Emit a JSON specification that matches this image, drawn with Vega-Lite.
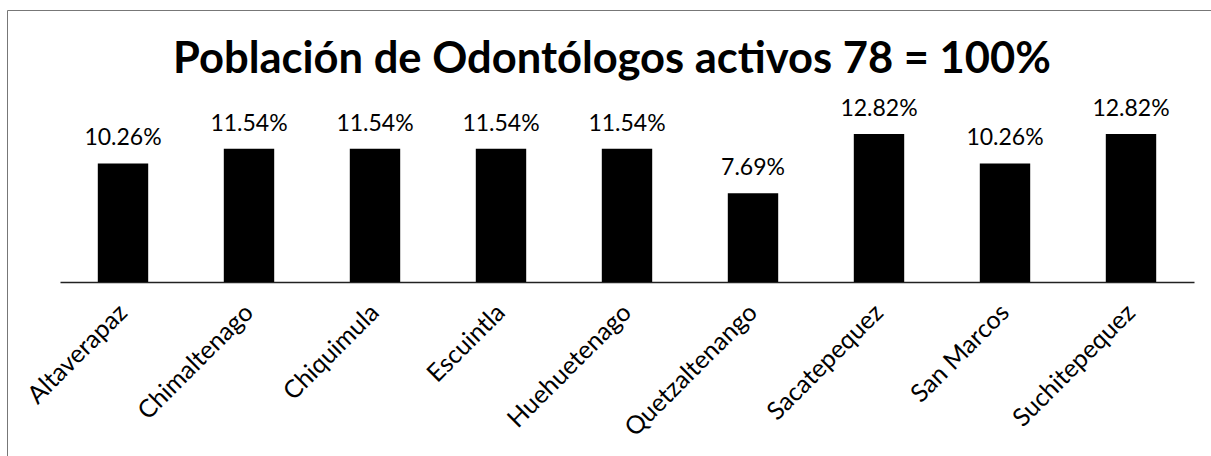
{
  "$schema": "https://vega.github.io/schema/vega-lite/v6.json",
  "width": 1204,
  "height": 446,
  "autosize": {"type": "none"},
  "padding": {"left": 7, "top": 10, "right": 0, "bottom": 0},
  "background": "white",
  "config": {
    "view": {"stroke": null},
    "font": "Lato",
    "title": {"font": "Lato", "fontSize": 43.5, "fontWeight": "bold", "color": "#000", "anchor": "middle", "frame": "group", "baseline": "alphabetic", "offset": -72, "dx": 3}
  },
  "title": {"text": "Población de Odontólogos activos 78 = 100%"},
  "data": {
    "values": [
      {"region": "Altaverapaz", "pct": 0.1026},
      {"region": "Chimaltenago", "pct": 0.1154},
      {"region": "Chiquimula", "pct": 0.1154},
      {"region": "Escuintla", "pct": 0.1154},
      {"region": "Huehuetenago", "pct": 0.1154},
      {"region": "Quetzaltenango", "pct": 0.0769},
      {"region": "Sacatepequez", "pct": 0.1282},
      {"region": "San Marcos", "pct": 0.1026},
      {"region": "Suchitepequez", "pct": 0.1282}
    ]
  },
  "layer": [
    {
      "encoding": {
        "x": {
          "field": "region", "type": "nominal", "sort": null,
          "scale": {"range": [53, 1187], "paddingInner": 0.6, "paddingOuter": 0.3},
          "axis": {"orient": "bottom", "offset": -174, "title": null, "ticks": false, "domainColor": "#222", "domainWidth": 1.5, "labelAngle": -45, "labelAlign": "right", "labelBaseline": "middle", "labelPadding": 26, "labelFont": "Lato", "labelFontSize": 25, "labelColor": "#000", "grid": false, "labelOverlap": false}
        },
        "y": {
          "field": "pct", "type": "quantitative",
          "scale": {"domain": [0, 0.16], "range": [272, 87.2], "zero": true, "nice": false},
          "axis": null
        }
      },
      "layer": [
        {"mark": {"type": "bar", "color": "#000"}},
        {"mark": {"type": "text", "baseline": "alphabetic", "dy": -18, "fontSize": 23, "font": "Lato", "color": "#000"},
         "encoding": {"text": {"field": "pct", "type": "quantitative", "format": ".2%"}}}
      ]
    },
    {
      "mark": {"type": "point", "opacity": 0},
      "encoding": {
        "x": {"field": "pct", "type": "quantitative", "scale": {"domain": [0, 1], "nice": false, "zero": false},
              "axis": {"orient": "top", "title": null, "labels": false, "ticks": false, "grid": false, "domainColor": "#777", "domainWidth": 1}},
        "y": {"field": "pct", "type": "quantitative", "scale": {"domain": [0, 1], "nice": false, "zero": false},
              "axis": {"orient": "left", "title": null, "labels": false, "ticks": false, "grid": false, "domainColor": "#777", "domainWidth": 1}}
      }
    }
  ],
  "resolve": {"scale": {"x": "independent", "y": "independent"}}
}
